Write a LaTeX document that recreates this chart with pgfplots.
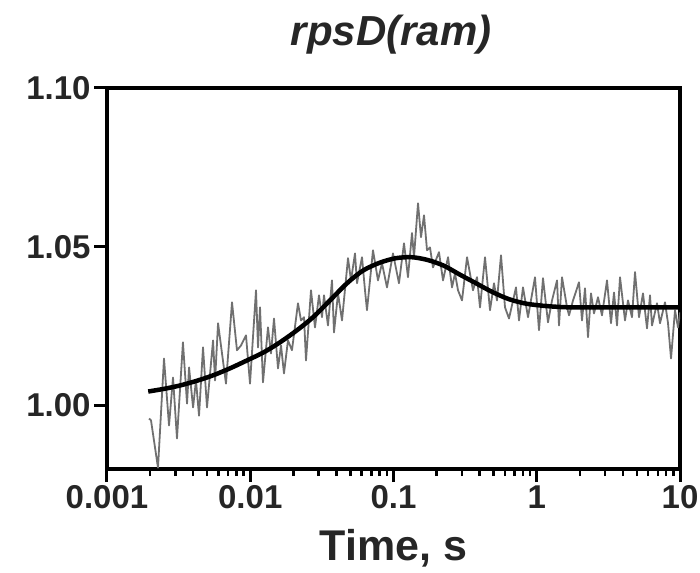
\documentclass[border=0pt]{standalone}
\usepackage{pgfplots}
\pgfplotsset{compat=1.18}
\usepackage{fontspec}
\setmainfont{Liberation Sans}
\definecolor{trace}{RGB}{112,112,112}
\begin{document}
\begin{tikzpicture}[x=1pt,y=1pt]
\path[use as bounding box] (0,0) rectangle (700,572);
\begin{axis}[
  at={(107pt,103pt)}, anchor=south west,
  scale only axis, width=573pt, height=381pt,
  xmode=log, xmin=0.001, xmax=10, ymin=0.98, ymax=1.10,
  axis line style={line width=3.5pt, black},
  xtick={0.001,0.01,0.1,1,10}, xticklabels={0.001,0.01,0.1,1,10},
  minor xtick={0.002,0.003,0.004,0.005,0.006,0.007,0.008,0.009,
    0.02,0.03,0.04,0.05,0.06,0.07,0.08,0.09,
    0.2,0.3,0.4,0.5,0.6,0.7,0.8,0.9,
    2,3,4,5,6,7,8,9},
  ytick={1.00,1.05,1.10}, yticklabels={1.00,1.05,1.10},
  tick align=outside, xtick pos=bottom, ytick pos=left,
  major tick length=13pt, minor tick length=7pt,
  major tick style={line width=3pt, black},
  minor tick style={line width=2.5pt, black},
  ticklabel style={font=\bfseries\fontsize{33}{33}\selectfont, text=black!85},
  title={rpsD(ram)},
  title style={at={(axis description cs:0.496,1.097)}, anchor=base,
    font=\bfseries\itshape\fontsize{42}{42}\selectfont, text=black!85},
  xlabel={Time, s},
  xlabel style={at={(axis description cs:0.5,-0.239)}, anchor=base,
    font=\bfseries\fontsize{43}{43}\selectfont, text=black!85},
]
\addplot[trace, line width=1.8pt, line join=round] table {
0.001965 0.9959
0.002029 0.9953
0.00227 0.9804
0.0025 1.0148
0.00271 0.9937
0.00289 1.0088
0.00308 0.9896
0.00339 1.0199
0.00362 1.0006
0.00374 1.0120
0.00399 0.9994
0.00418 1.0079
0.00439 0.9968
0.00468 1.0183
0.00499 0.9994
0.0055 1.0205
0.00568 1.0079
0.00596 1.0259
0.00677 1.0069
0.00746 1.0325
0.00808 1.0174
0.00862 1.0189
0.00934 1.0221
0.00996 1.0069
0.01097 1.0363
0.01133 1.0183
0.0117 1.0309
0.01227 1.0073
0.0133 1.0246
0.01396 1.0164
0.01465 1.0274
0.01562 1.0117
0.0164 1.0189
0.0172 1.0101
0.01834 1.0205
0.01956 1.0174
0.02154 1.0322
0.02261 1.0268
0.02373 1.0278
0.0245 1.0142
0.02655 1.0363
0.02831 1.0246
0.0302 1.0347
0.03169 1.0278
0.03272 1.0347
0.03489 1.0252
0.03721 1.0394
0.03843 1.0230
0.04099 1.0353
0.04371 1.0268
0.04813 1.0464
0.0505 1.0394
0.05386 1.0479
0.05562 1.0385
0.06028 1.0467
0.06324 1.0363
0.06531 1.0300
0.07193 1.0489
0.07795 1.0394
0.08312 1.0448
0.09008 1.0372
0.0992 1.0479
0.1092 1.0385
0.1184 1.0511
0.1262 1.0404
0.1346 1.0543
0.139 1.0467
0.1483 1.0637
0.1556 1.0530
0.1633 1.0599
0.1714 1.0489
0.1798 1.0498
0.1887 1.0435
0.2078 1.0483
0.2216 1.0394
0.2403 1.0467
0.2562 1.0372
0.2688 1.0416
0.282 1.0363
0.3008 1.0331
0.3261 1.0467
0.3589 1.0363
0.3828 1.0404
0.4017 1.0309
0.4353 1.0467
0.4717 1.0300
0.503 1.0385
0.5278 1.0331
0.563 1.0473
0.6003 1.0309
0.6403 1.0274
0.7163 1.0372
0.7517 1.0268
0.8016 1.0372
0.8689 1.0278
0.9723 1.0404
1.0368 1.0237
1.1056 1.0401
1.198 1.0262
1.278 1.0331
1.385 1.0394
1.430 1.0252
1.501 1.0404
1.627 1.0309
1.680 1.0284
1.792 1.0331
1.972 1.0388
2.070 1.0268
2.172 1.0369
2.279 1.0215
2.392 1.0353
2.510 1.0290
2.677 1.0341
2.854 1.0284
3.093 1.0394
3.299 1.0259
3.462 1.0356
3.633 1.0252
3.813 1.0404
4.131 1.0268
4.335 1.0331
4.623 1.0278
4.852 1.0420
5.174 1.0278
5.517 1.0353
5.884 1.0243
6.175 1.0347
6.376 1.0252
6.910 1.0322
7.252 1.0259
7.859 1.0325
8.248 1.0259
8.655 1.0148
9.229 1.0300
9.684 1.0246
10.0 1.0293
};
\addplot[black, line width=4.5pt, smooth] table {
0.00194 1.0044
0.00254 1.0053
0.00323 1.0063
0.00425 1.0078
0.0055 1.0095
0.00722 1.0117
0.00949 1.0142
0.01247 1.0168
0.01613 1.0199
0.0212 1.0237
0.02742 1.0278
0.03603 1.0331
0.04736 1.0385
0.06125 1.0425
0.0805 1.0450
0.1041 1.0464
0.1346 1.0467
0.1741 1.0458
0.2252 1.0440
0.2912 1.0412
0.3766 1.0385
0.4871 1.0358
0.630 1.0336
0.8147 1.0322
1.054 1.0315
1.363 1.0311
1.762 1.0309
3.0 1.0309
10.0 1.0309
};
\end{axis}
\end{tikzpicture}
\end{document}
